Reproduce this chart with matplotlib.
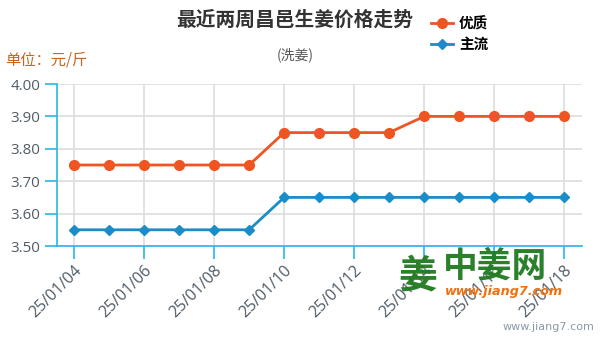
import numpy as np
import matplotlib
matplotlib.use('Agg')
import matplotlib.pyplot as plt
from matplotlib.lines import Line2D

plt.rcParams['font.family'] = ['Noto Sans CJK SC', 'DejaVu Sans']

dates = ['25/01/04', '25/01/05', '25/01/06', '25/01/07', '25/01/08',
         '25/01/09', '25/01/10', '25/01/11', '25/01/12', '25/01/13',
         '25/01/14', '25/01/15', '25/01/16', '25/01/17', '25/01/18']
premium = [3.75, 3.75, 3.75, 3.75, 3.75, 3.75, 3.85, 3.85, 3.85, 3.85,
           3.90, 3.90, 3.90, 3.90, 3.90]
mainstream = [3.55, 3.55, 3.55, 3.55, 3.55, 3.55, 3.65, 3.65, 3.65, 3.65,
              3.65, 3.65, 3.65, 3.65, 3.65]
yticks = [3.50, 3.60, 3.70, 3.80, 3.90, 4.00]

c_prem = '#ee5522'
c_main = '#1a8dc8'
c_axis = '#29b6e8'
c_grid = '#dddddd'
c_tick = '#4f5b66'

fig = plt.figure(figsize=(6, 3.41), dpi=100)
ax = fig.add_axes([57/600, 1-246/341, 525/600, 162/341])

x = np.arange(len(dates))
ax.plot(x, premium, color=c_prem, lw=2, marker='o', ms=7, zorder=3)
ax.plot(x, mainstream, color=c_main, lw=2, marker='D', ms=5, zorder=3)

ax.set_xlim(-0.49, 14.51)
ax.set_ylim(3.5, 4.0)
ax.set_yticks(yticks)
ax.set_yticklabels(['%.2f' % v for v in yticks], fontsize=10.8, color=c_tick,
                   family=['Open Sans', 'DejaVu Sans'])
ax.set_xticks(x[::2])
ax.set_xticklabels(dates[::2], rotation=45, ha='right', va='top',
                   rotation_mode='anchor', fontsize=11.5, color=c_tick,
                   family=['Open Sans', 'DejaVu Sans'])
ax.tick_params(axis='both', direction='out', length=9, width=1.2, color=c_axis, pad=3)

ax.grid(True, color=c_grid, lw=1.2, zorder=0)
for s in ['top', 'right']:
    ax.spines[s].set_visible(False)
for s in ['left', 'bottom']:
    ax.spines[s].set_color(c_axis)
    ax.spines[s].set_linewidth(1.2)

fig.text(295/600, 1-20/341, '最近两周昌邑生姜价格走势', ha='center', va='center',
         fontsize=14.2, fontweight='bold', color='#333333')
fig.text(295/600, 1-55/341, '(洗姜)', ha='center', va='center',
         fontsize=10, color='#555555')
fig.text(5/600, 1-60/341, '单位：元/斤', ha='left', va='center',
         fontsize=11, color='#c8641e')

handles = [Line2D([], [], color=c_prem, lw=2, marker='o', ms=7),
           Line2D([], [], color=c_main, lw=2, marker='D', ms=5)]
fig.legend(handles, ['优质', '主流'], loc='upper left',
           bbox_to_anchor=(418/600, 1-2/341), frameon=False,
           handlelength=1.5, handletextpad=0.4, labelspacing=0.35,
           prop={'weight': 'bold', 'size': 10.5})

# site watermark
fig.text(398/600, 1-276/341, '姜', ha='left', va='center', fontsize=28,
         fontweight='bold', color='#1f7a1f', alpha=0.95)
fig.text(443/600, 1-266/341, '中姜网', ha='left', va='center', fontsize=25,
         fontweight='bold', color='#1f7a1f', alpha=0.95)
fig.text(445/600, 1-292/341, 'www.jiang7.com', ha='left', va='center',
         fontsize=9.2, fontweight='bold', style='italic', color='#f07010',
         family=['DejaVu Sans'])
fig.text(594/600, 1-327/341, 'www.jiang7.com', ha='right', va='center',
         fontsize=8, color='#8a9aa8', family=['DejaVu Sans'])

fig.savefig('out.png', dpi=100)
